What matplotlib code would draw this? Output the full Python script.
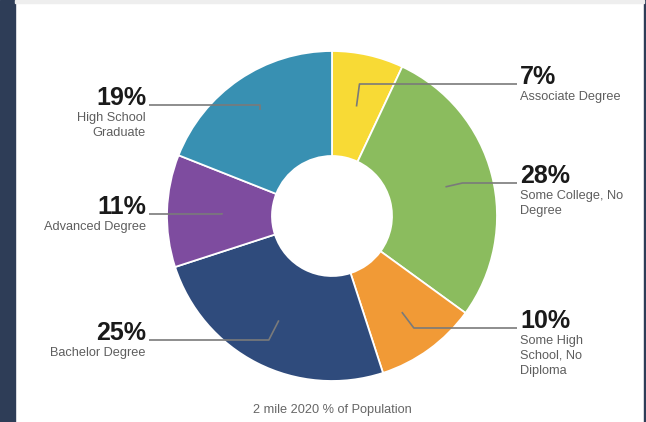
import numpy as np
import matplotlib
matplotlib.use("Agg")
import matplotlib.pyplot as plt
from matplotlib.patches import Rectangle

# ---- data ----
categories = ["Associate Degree", "Some College, No\nDegree", "Some High\nSchool, No\nDiploma",
              "Bachelor Degree", "Advanced Degree", "High School\nGraduate"]
values = [7, 28, 10, 25, 11, 19]
pct_labels = ["7%", "28%", "10%", "25%", "11%", "19%"]
colors = ["#F8DA35", "#8BBC5E", "#F19A36", "#2F4B7C", "#7E4C9F", "#3890B2"]
title = "2 mile 2020 % of Population"

# ---- layout (pixels) ----
W, H = 646, 422
CX, CY, R = 332, 216, 165
HOLE = 60
# label anchor: (side, text x, baseline y, elbow x offset)
label_layout = [
    ("right", 520, 84, 3),
    ("right", 520, 183, 17),
    ("right", 520, 328, 12),
    ("left", 146, 340, -10),
    ("left", 146, 214, 0),
    ("left", 146, 105, 0),
]
start_r = [0.68, 0.71, 0.72, 0.71, 0.67, 0.78]

fig = plt.figure(figsize=(W / 100, H / 100), dpi=100)
fig.patch.set_facecolor("white")
fig.patches.append(Rectangle((0, 0), 15 / W, 1, transform=fig.transFigure, color="#2E3D57", zorder=0))
fig.patches.append(Rectangle((644 / W, 0), 2 / W, 1, transform=fig.transFigure, color="#2E3D57", zorder=0))
fig.patches.append(Rectangle((15 / W, 1 - 3 / H), 629 / W, 3 / H, transform=fig.transFigure, color="#EEEEEE", zorder=0))

# pie axes
ax = fig.add_axes([(CX - R) / W, (H - CY - R) / H, 2 * R / W, 2 * R / H])
wedges, _ = ax.pie(values, colors=colors, startangle=90, counterclock=False, radius=1,
                   wedgeprops=dict(width=(R - HOLE) / R, edgecolor="white", linewidth=1.3))
ax.set_xlim(-1, 1)
ax.set_ylim(-1, 1)
ax.axis("off")

# overlay axes in pixel coords
ov = fig.add_axes([0, 0, 1, 1], facecolor="none")
ov.set_xlim(0, W)
ov.set_ylim(H, 0)
ov.axis("off")

font = "Liberation Sans"
for w, pct, cat, (side, tx, by, eoff), sr in zip(wedges, pct_labels, categories, label_layout, start_r):
    mid = np.deg2rad((w.theta1 + w.theta2) / 2)
    sx = CX + sr * R * np.cos(mid)
    sy = CY - sr * R * np.sin(mid)
    ex = sx + eoff
    if side == "right":
        xs = [sx, ex, tx - 3]
        ha = "left"
    else:
        xs = [sx, ex, tx + 3]
        ha = "right"
    ys = [sy, by, by]
    ov.plot(xs, ys, color="#7A7A7A", lw=1.2, solid_capstyle="butt", zorder=3)
    ov.text(tx, by, pct, ha=ha, va="baseline", fontsize=18, fontweight="bold",
            color="#1A1A1A", family=font)
    for i, line in enumerate(cat.split("\n")):
        ov.text(tx, by + 16 + 15 * i, line, ha=ha, va="baseline", fontsize=9.2,
                color="#5E5E5E", family=font)

ov.text(CX, 413, title, ha="center", va="baseline", fontsize=9.2, color="#666666", family=font)

fig.savefig("out.png", dpi=100, facecolor="white")
